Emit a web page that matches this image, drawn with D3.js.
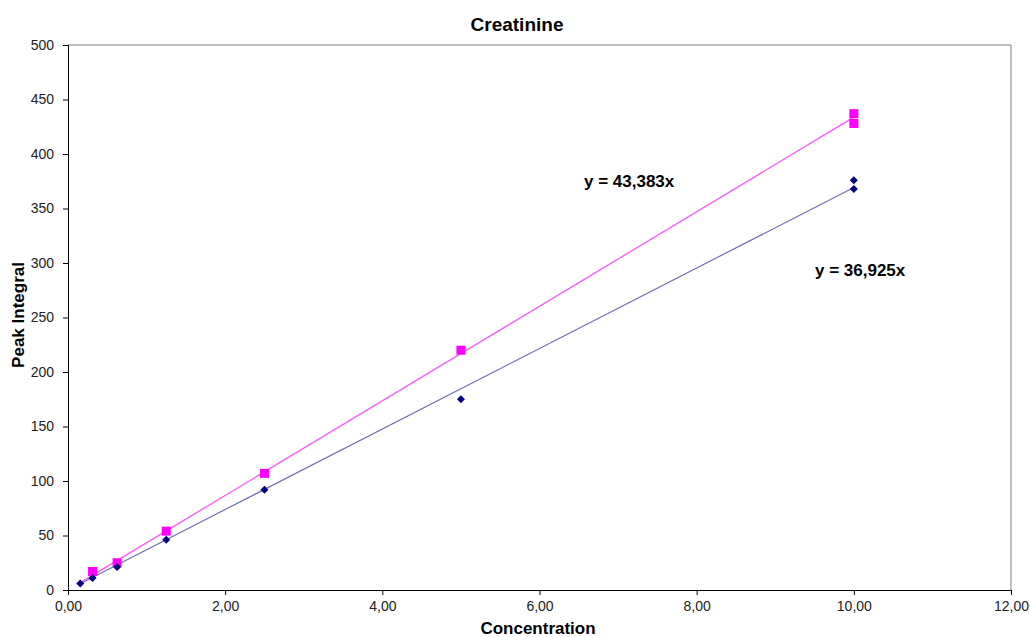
<!DOCTYPE html>
<html>
<head>
<meta charset="utf-8">
<script src="https://cdn.jsdelivr.net/npm/d3@7"></script>
<style>
  body { margin: 0; background: #fff; }
  text { font-family: "Liberation Sans", Arial, sans-serif; }
</style>
</head>
<body>
<svg id="chart"></svg>
<script>
// data
var concBlue = [0.156, 0.3125, 0.625, 1.25, 2.5, 5, 10, 10]
var peakBlue = [6, 11, 21, 46, 92, 175, 376, 368]
var concPink = [0.3125, 0.625, 1.25, 2.5, 5, 10, 10]
var peakPink = [17, 25, 54, 107, 220, 437, 428]
var slopes = [43.383, 36.925]
var xTicks = [0, 2, 4, 6, 8, 10, 12]
var yTicks = [0, 50, 100, 150, 200, 250, 300, 350, 400, 450, 500]

var width = 1030, height = 637
var margin = {left: 68, right: 19, top: 45, bottom: 47}

var svg = d3.select("#chart").attr("width", width).attr("height", height)

var x = d3.scaleLinear().domain([0, 12]).range([margin.left, width - margin.right])
var y = d3.scaleLinear().domain([0, 500]).range([height - margin.bottom, margin.top])

var fmt = function(d){ return d3.format(".2f")(d).replace(".", ",") }

// frame: grey top and right
svg.append("path")
  .attr("d", "M" + x(0) + "," + y(500) + "H" + x(12) + "V" + y(0))
  .attr("fill", "none").attr("stroke", "#808080").attr("stroke-width", 1)

var xAxis = svg.append("g")
  .attr("transform", "translate(0," + y(0) + ")")
  .call(d3.axisBottom(x).tickValues(xTicks).tickFormat(fmt).tickSize(5).tickPadding(6))
var yAxis = svg.append("g")
  .attr("transform", "translate(" + x(0) + ",0)")
  .call(d3.axisLeft(y).tickValues(yTicks).tickSize(5).tickPadding(9))

svg.selectAll(".domain").attr("stroke", "#000")
svg.selectAll(".tick line").attr("stroke", "#000")
svg.selectAll(".tick text").attr("font-size", 14).attr("fill", "#222")
  .attr("font-family", "'Liberation Sans', Arial, sans-serif")

// trendlines through origin
var xMin = d3.min(concBlue), xMax = d3.max(concBlue)
var trend = [
  {slope: slopes[0], color: "#ff4dff"},
  {slope: slopes[1], color: "#6f6fb5"}
]
svg.selectAll(".trend")
  .data(trend)
  .enter()
  .append("line")
  .attr("x1", x(xMin)).attr("x2", x(xMax))
  .attr("y1", function(d){ return y(d.slope * xMin) })
  .attr("y2", function(d){ return y(d.slope * xMax) })
  .attr("stroke", function(d){ return d.color })
  .attr("stroke-width", 1.2)

// pink squares
var pink = concPink.map(function(c, i){ return [c, peakPink[i]] })
svg.append("g").selectAll("rect")
  .data(pink)
  .enter()
  .append("rect")
  .attr("x", function(d){ return x(d[0]) - 4.5 })
  .attr("y", function(d){ return y(d[1]) - 4.5 })
  .attr("width", 9).attr("height", 9)
  .attr("fill", "#ff00ff")

// navy diamonds
var blue = concBlue.map(function(c, i){ return [c, peakBlue[i]] })
svg.append("g").selectAll("path")
  .data(blue)
  .enter()
  .append("path")
  .attr("d", "M0,-4L4,0L0,4L-4,0Z")
  .attr("transform", function(d){ return "translate(" + x(d[0]) + "," + y(d[1]) + ")" })
  .attr("fill", "#000080")

// equation labels
svg.append("text").attr("x", 584).attr("y", 187)
  .attr("font-size", 17).attr("font-weight", "bold").text("y = 43,383x")
svg.append("text").attr("x", 815).attr("y", 276)
  .attr("font-size", 17).attr("font-weight", "bold").text("y = 36,925x")

// titles
svg.append("text").attr("x", 517).attr("y", 31).attr("text-anchor", "middle")
  .attr("font-size", 19).attr("font-weight", "bold").text("Creatinine")
svg.append("text").attr("x", 538).attr("y", 634).attr("text-anchor", "middle")
  .attr("font-size", 17).attr("font-weight", "bold").text("Concentration")
svg.append("text").attr("transform", "translate(24,315) rotate(-90)").attr("text-anchor", "middle")
  .attr("font-size", 17).attr("font-weight", "bold").text("Peak Integral")
</script>
</body>
</html>
